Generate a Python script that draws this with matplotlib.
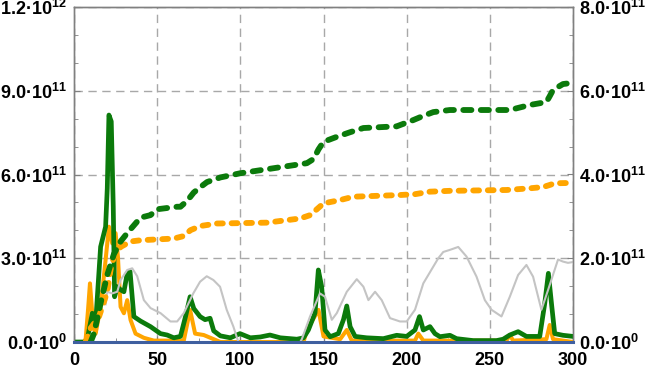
import math
import matplotlib
matplotlib.use('Agg')
import matplotlib.pyplot as plt
from matplotlib.ticker import MultipleLocator, AutoMinorLocator, FuncFormatter

plt.rcParams['font.family'] = ['Liberation Sans', 'DejaVu Sans']
plt.rcParams['mathtext.fontset'] = 'custom'
plt.rcParams['mathtext.rm'] = 'Liberation Sans'
plt.rcParams['mathtext.bf'] = 'Liberation Sans:bold'

UNIT = 1e11

# spiky series (left axis, units of 1e11)
green_x = [0, 7, 8, 11, 13, 16, 19, 20, 21, 22.4, 23.6, 24.4, 26, 28, 30, 32, 33.7, 36, 40, 46,
           52, 56, 60, 64, 67, 69.8, 72, 75.8, 78.8, 81.8, 84, 88, 94, 99.8, 106, 112, 117.8,
           124, 134, 138, 140.9, 144.9, 146.9, 148.9, 150.9, 154, 158.9, 162, 164, 166, 169,
           176, 186, 194, 200, 205, 207.7, 210, 214, 217, 220, 226, 230, 240, 254, 258, 262,
           267, 272, 280, 283, 285.2, 287.2, 289, 294, 300]
green_y = [0, 0, 0.1, 1.03, 0.67, 3.41, 4.13, 5.5, 8.13, 7.9, 4.85, 1.62, 1.98, 1.87, 1.8, 2.46, 2.52,
           0.91, 0.75, 0.55, 0.3, 0.25, 0.15, 0.2, 0.9, 1.62, 1.2, 0.91, 0.8, 0.85, 0.4, 0.22, 0.15,
           0.3, 0.15, 0.18, 0.25, 0.15, 0.1, 0.15, 0.43, 1.04, 2.58, 1.98, 0.43, 0.19, 0.3, 0.8,
           1.29, 0.55, 0.2, 0.15, 0.12, 0.24, 0.2, 0.43, 0.91, 0.43, 0.55, 0.3, 0.19, 0.24, 0.12,
           0.05, 0.05, 0.1, 0.25, 0.37, 0.2, 0.2, 1.38, 2.46, 1.3, 0.3, 0.24, 0.2]

orange_x = [0, 6, 7, 8.5, 9.6, 10.5, 11.6, 13, 16, 19, 21, 23, 25, 26.4, 28, 30, 32, 34, 37, 42,
            48, 66, 69.8, 72.8, 78, 84, 88, 138, 140, 147, 150, 160, 164, 167, 205, 207, 210,
            260, 262, 264, 284, 286, 288, 300]
orange_y = [0, 0, 0.1, 1.2, 2.1, 1.4, 0.55, 0.3, 1.26, 2.94, 4.13, 3.53, 3.9, 3.06, 1.26, 1.03,
            1.5, 0.79, 0.3, 0.15, 0.05, 0.05, 1.15, 0.3, 0.25, 0.1, 0, 0, 0.43, 1.15, 0.2, 0.1,
            0.43, 0.05, 0.05, 0.3, 0.05, 0.05, 0.25, 0.05, 0.1, 0.61, 0.1, 0]

# right axis series (units of 1e11)
gray_x = [19, 20, 23, 26, 28, 32, 35, 38, 42, 46, 52, 58, 62, 66, 67.8, 71.7, 75.8, 79.8, 83.8,
          87.8, 91.8, 95.8, 98.8, 136, 137, 141.9, 147.9, 150.9, 155, 158, 164, 170, 174, 177,
          181, 185, 190, 196, 200, 205, 210, 216, 219, 222, 226, 231, 236, 242, 247, 251, 257,
          262, 267, 272, 276, 281, 285, 291, 294, 297, 300]
gray_y = [0.9, 1.2, 1.16, 1.2, 1.48, 1.72, 1.76, 1.57, 1.0, 0.81, 0.69, 0.49, 0.49, 0.69, 0.84,
          1.16, 1.44, 1.57, 1.48, 1.32, 0.77, 0.37, 0.0, 0.0, 0.07, 0.61, 1.16, 1.08, 0.53, 0.69,
          1.2, 1.5, 1.32, 1.0, 1.2, 1.0, 0.57, 0.49, 0.49, 0.77, 1.4, 1.8, 2.0, 2.15, 2.2, 2.27,
          2.04, 1.56, 1.0, 0.77, 0.61, 1.08, 1.6, 1.84, 1.56, 0.77, 1.24, 1.97, 1.92, 1.89, 1.91]

cum_green_x = [10, 12, 16, 20, 24, 28, 32, 40, 46, 50, 62, 64, 68, 72, 76, 80, 88, 100, 120, 140,
               144, 147, 150, 158, 166, 174, 194, 204, 210, 216, 226, 262, 274, 284, 286, 288,
               294, 300]
cum_green_y = [0, 0.2, 0.93, 1.6, 2.1, 2.4, 2.6, 2.97, 3.03, 3.17, 3.23, 3.23, 3.37, 3.57, 3.7,
               3.82, 3.93, 4.03, 4.15, 4.27, 4.37, 4.6, 4.78, 4.9, 5.01, 5.11, 5.15, 5.3, 5.4,
               5.49, 5.54, 5.54, 5.66, 5.73, 5.87, 6.02, 6.16, 6.19]

cum_orange_x = [7, 10, 15, 20, 22, 24, 28, 34, 40, 60, 66, 70, 76, 86, 116, 136, 142, 146, 150,
                160, 168, 196, 205, 214, 226, 260, 274, 282, 286, 289, 300]
cum_orange_y = [0, 0.33, 0.6, 1.2, 1.73, 2.03, 2.27, 2.4, 2.43, 2.47, 2.53, 2.67, 2.77, 2.83,
                2.85, 2.95, 3.03, 3.17, 3.31, 3.39, 3.47, 3.51, 3.53, 3.59, 3.61, 3.63, 3.67,
                3.7, 3.75, 3.79, 3.8]

base_x = [0, 300]
base_y = [0, 0]


def sci_label(v, pos):
    if v <= 0:
        mant, exp = 0.0, 0
    else:
        exp = int(math.floor(math.log10(v) + 1e-9))
        mant = v / 10 ** exp
    return r'$\mathbf{%.1f·10^{%d}}$' % (mant, exp)


fig = plt.figure(figsize=(6.5, 3.72), dpi=100)
ax = fig.add_axes([74 / 650, 30 / 372, 499 / 650, 335 / 372])
ax2 = ax.twinx()

ax.plot(orange_x, [v * UNIT for v in orange_y], color='#ffa500', lw=2.9, zorder=3)
ax.plot(green_x, [v * UNIT for v in green_y], color='#0b7a0b', lw=3.4, zorder=4)

ax2.plot(gray_x, [v * UNIT for v in gray_y], color='#c4c4c4', lw=1.5, zorder=2)
ax2.plot(cum_orange_x, [v * UNIT for v in cum_orange_y], color='#ffa500', lw=4.2,
         dashes=(1.0, 1.5), dash_capstyle='round', zorder=3)
ax2.plot(cum_green_x, [v * UNIT for v in cum_green_y], color='#0b7a0b', lw=4.2,
         dashes=(1.4, 1.6), dash_capstyle='round', zorder=4)
ax2.plot(base_x, base_y, color='#3f5f9f', lw=2.2, clip_on=False, zorder=6)

ax.set_xlim(0, 300)
ax.set_ylim(0, 1.2e12)
ax2.set_ylim(0, 8e11)

ax.xaxis.set_major_locator(MultipleLocator(50))
ax.xaxis.set_minor_locator(MultipleLocator(25))
ax.yaxis.set_major_locator(MultipleLocator(3e11))
ax.yaxis.set_minor_locator(MultipleLocator(1e11))
ax2.yaxis.set_major_locator(MultipleLocator(2e11))
ax2.yaxis.set_minor_locator(AutoMinorLocator(3))
ax.yaxis.set_major_formatter(FuncFormatter(sci_label))
ax2.yaxis.set_major_formatter(FuncFormatter(sci_label))

for a in (ax, ax2):
    a.tick_params(which='both', direction='in', color='#808080', labelsize=13)
    a.tick_params(which='major', length=4)
    a.tick_params(which='minor', length=3)
    for s in a.spines.values():
        s.set_color('#808080')
        s.set_linewidth(1)
ax.tick_params(axis='x', pad=7)
ax.tick_params(axis='y', pad=5)
ax2.tick_params(axis='y', pad=4)
for lab in ax.get_xticklabels():
    lab.set_fontweight('bold')

ax.grid(True, which='major', color='#a8a8a8', lw=1, ls=(0, (6, 4)))
ax.set_axisbelow(True)

fig.savefig('out.png', dpi=100)
